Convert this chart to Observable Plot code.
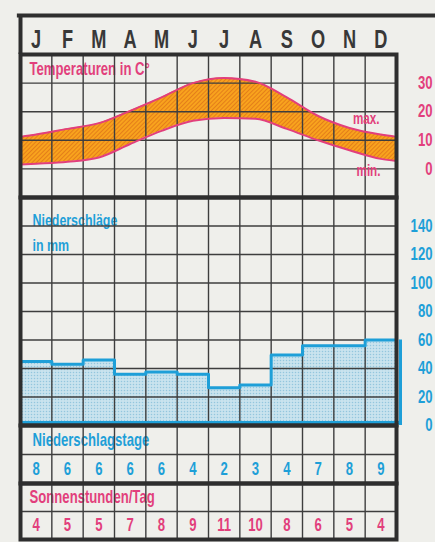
<!DOCTYPE html>
<html><head><meta charset="utf-8">
<script src="https://cdn.jsdelivr.net/npm/d3@7"></script>
<script src="https://cdn.jsdelivr.net/npm/@observablehq/plot@0.6"></script>
<style>
html,body{margin:0;padding:0;background:#efefeb;}
#chart{position:relative;width:435px;height:542px;overflow:hidden;background:#efefeb;}
#chart svg{position:absolute;left:0;overflow:visible;}
</style></head><body>
<svg width="0" height="0" style="position:absolute">
<defs>
<pattern id="hatch" patternUnits="userSpaceOnUse" width="3" height="3" patternTransform="rotate(45)">
<rect width="3" height="3" fill="#f8a31d"/><line x1="0.5" y1="0" x2="0.5" y2="3" stroke="#e2791a" stroke-width="0.9"/>
</pattern>
<pattern id="dots" patternUnits="userSpaceOnUse" width="3" height="3">
<rect width="3" height="3" fill="#c9e3ee"/><circle cx="1.5" cy="1.5" r="0.75" fill="#93c6de"/>
</pattern>
</defs></svg>
<div id="chart"></div>
<script>
const months = ["J","F","M","A","M","J","J","A","S","O","N","D"];
const tempMax = [12, 14, 16, 20.3, 25, 30, 31.8, 30.5, 25, 18.5, 14.3, 12];
const tempMin = [1.8, 2.5, 4, 8.7, 13.3, 16.8, 17.8, 17.5, 14, 10, 6.5, 3.5];
const tempMaxEdges = [11.2, 11.2];
const tempMinEdges = [1.5, 2.8];
const precip = [45, 43, 46, 36, 37.5, 36, 26.5, 28.5, 49.5, 56, 56, 60];
const rainDays = [8, 6, 6, 6, 6, 4, 2, 3, 4, 7, 8, 9];
const sunHours = [4, 5, 5, 7, 8, 9, 11, 10, 8, 6, 5, 4];
const tempTicks = [0, 10, 20, 30];
const tempGrid = [0, 10, 20, 30];
const precipTicks = [0, 20, 40, 60, 80, 100, 120, 140];
const precipGrid = [20, 40, 60, 80, 100, 120, 140];
const colBounds = [1, 2, 3, 4, 5, 6, 7, 8, 9, 10, 11];

const PINK = "#e23f7c", BLUE = "#1e9fd8", DARK = "#2e2e2e", GRID = "#3e3e3e";
const FONT = '"Liberation Sans","Arimo",Arial,sans-serif';
const chart = document.getElementById("chart");

function panel(top, height, yDomain, marks, squeeze = 0.73) {
  const svg = Plot.plot({
    width: 435, height,
    marginLeft: 20, marginRight: 39, marginTop: 0, marginBottom: 0,
    x: {domain: [0, 12], axis: null},
    y: {domain: yDomain, axis: null},
    style: {background: "transparent", overflow: "visible", fontFamily: FONT},
    marks
  });
  svg.style.position = "absolute";
  svg.style.top = top + "px";
  // condensed lettering: narrow each text around its own anchor
  svg.querySelectorAll("text").forEach(t => {
    const tr = t.getAttribute("transform") || "";
    t.setAttribute("transform", tr + ` scale(${squeeze},1)`);
  });
  chart.append(svg);
}
const grid = (ys) => [
  Plot.ruleX(colBounds, {stroke: GRID, strokeWidth: 1.4}),
  Plot.ruleY(ys, {stroke: GRID, strokeWidth: 1.4})
];
const frame = Plot.frame({stroke: DARK, strokeWidth: 4});

// Header: months
panel(15, 39, [0, 1], [
  Plot.text(months, {x: (d, i) => i + 0.5, frameAnchor: "bottom", lineAnchor: "bottom", dy: -7,
    fontSize: 26, fontWeight: "bold", fill: "#383838"}),
  Plot.ruleY([1], {x1: -0.1, x2: 13.4, stroke: DARK, strokeWidth: 4}),
  Plot.ruleX([0], {stroke: DARK, strokeWidth: 4})
], 0.7);

// Temperature
const tData = [{x: 0, lo: tempMinEdges[0], hi: tempMaxEdges[0]}]
  .concat(months.map((m, i) => ({x: i + 0.5, lo: tempMin[i], hi: tempMax[i]})))
  .concat([{x: 12, lo: tempMinEdges[1], hi: tempMaxEdges[1]}]);
panel(54, 143, [-10, 40], [
  Plot.areaY(tData, {x: "x", y1: "lo", y2: "hi", curve: "monotone-x", fill: "url(#hatch)"}),
  Plot.text(["Temperaturen in C°"], {frameAnchor: "top-left", dx: 9, dy: 8, lineAnchor: "top",
    fontSize: 18, fontWeight: "bold", fill: PINK}),
  ...grid(tempGrid),
  Plot.line(tData, {x: "x", y: "hi", curve: "monotone-x", stroke: PINK, strokeWidth: 2}),
  Plot.line(tData, {x: "x", y: "lo", curve: "monotone-x", stroke: PINK, strokeWidth: 2}),
  Plot.text(["max."], {frameAnchor: "top-right", dx: -17, dy: 58, lineAnchor: "top", textAnchor: "end",
    fontSize: 16, fontWeight: "bold", fill: PINK}),
  Plot.text(["min."], {frameAnchor: "top-right", dx: -16, dy: 110, lineAnchor: "top", textAnchor: "end",
    fontSize: 16, fontWeight: "bold", fill: PINK}),
  frame,
  Plot.axisY(tempTicks, {anchor: "right", tickSize: 0, tickPadding: 36, textAnchor: "end",
    fontSize: 18, fontWeight: "bold", fill: PINK, label: null})
]);

// Precipitation
const stepPts = precip.map((v, i) => ({x: i, y: v})).concat([{x: 12, y: precip[11]}]);
panel(197, 228, [0, 160], [
  Plot.rectY(precip, {x1: (d, i) => i, x2: (d, i) => i + 1, y: d => d, fill: "url(#dots)", insetLeft: -0.5, insetRight: -0.5}),
  Plot.rectY([precip[11]], {x1: 12, x2: 12.12, y: d => d, fill: "url(#dots)"}),
  Plot.text(["Niederschläge\nin mm"], {frameAnchor: "top-left", dx: 12, dy: 11, lineAnchor: "top", lineHeight: 1.45,
    fontSize: 17, fontWeight: "bold", fill: BLUE}),
  ...grid(precipGrid),
  Plot.line(stepPts, {x: "x", y: "y", curve: "step-after", stroke: BLUE, strokeWidth: 3}),
  Plot.ruleX([12], {y1: 0, y2: precip[11], dx: 4, stroke: BLUE, strokeWidth: 3}),
  Plot.ruleY([0], {x1: 0, x2: 12.12, dy: -3, stroke: BLUE, strokeWidth: 3}),
  frame,
  Plot.axisY(precipTicks, {anchor: "right", tickSize: 0, tickPadding: 36, textAnchor: "end",
    fontSize: 18, fontWeight: "bold", fill: BLUE, label: null})
]);

// Niederschlagstage
panel(425, 58, [0, 2], [
  Plot.text(["Niederschlagstage"], {y: 1.5, frameAnchor: "left", dx: 12, fontSize: 18, fontWeight: "bold", fill: BLUE}),
  Plot.text(rainDays, {x: (d, i) => i + 0.5, y: 0.5, text: d => d, fontSize: 18, fontWeight: "bold", fill: BLUE}),
  ...grid([1]),
  frame
]);

// Sonnenstunden/Tag
panel(483, 56, [0, 2], [
  Plot.text(["Sonnenstunden/Tag"], {y: 1.5, frameAnchor: "left", dx: 9, fontSize: 18, fontWeight: "bold", fill: PINK}),
  Plot.text(sunHours, {x: (d, i) => i + 0.5, y: 0.5, text: d => d, fontSize: 18, fontWeight: "bold", fill: PINK}),
  ...grid([1]),
  frame
]);
</script>
</body></html>
